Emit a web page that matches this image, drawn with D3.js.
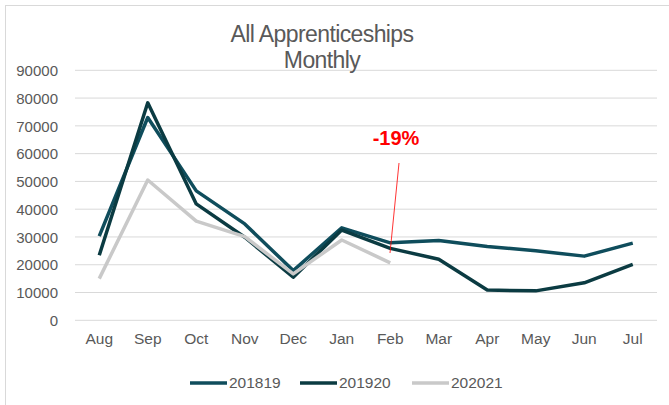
<!DOCTYPE html>
<html><head><meta charset="utf-8">
<script src="https://cdn.jsdelivr.net/npm/d3@7"></script>
<style>body{margin:0;background:#fff}svg{display:block;font-family:"Liberation Sans",Arial,sans-serif}</style>
</head><body><svg id="c" width="669" height="405"></svg>
<script>
const months = ["Aug","Sep","Oct","Nov","Dec","Jan","Feb","Mar","Apr","May","Jun","Jul"];
const s201819 = [30300,73000,46600,34700,17900,33300,27900,28700,26600,25000,23100,27800];
const s201920 = [23400,78300,41900,29900,15500,32500,25900,22000,10900,10600,13500,20100];
const s202021 = [15000,50500,35700,30100,16700,28900,20700];
const yTicks = [0,10000,20000,30000,40000,50000,60000,70000,80000,90000];
const seriesNames = ["201819","201920","202021"];
const colors = ["#0f4d5c","#0b3b42","#c9c9c9"];
const annotation = "-19%";

const svg = d3.select("#c");
svg.append("rect").attr("x",5.5).attr("y",5.5).attr("width",670).attr("height",410)
  .attr("fill","none").attr("stroke","#d9d9d9");

const x = d3.scaleBand().domain(months).range([75,657]);
const y = d3.scaleLinear().domain([0,90000]).range([320.3,70.3]);

svg.append("g").selectAll("line").data(yTicks).join("line")
  .attr("x1",75).attr("x2",657).attr("y1",d=>y(d)).attr("y2",d=>y(d))
  .attr("stroke","#d9d9d9").attr("stroke-width",1);

const ya = svg.append("g").attr("transform","translate(75,0)")
  .call(d3.axisLeft(y).tickValues(yTicks).tickSize(0).tickPadding(17).tickFormat(d3.format("d")));
ya.select(".domain").remove();
ya.selectAll("text").attr("fill","#595959").style("font-size","15px").attr("dy","0.35em");

const xa = svg.append("g").attr("transform","translate(0,320.3)")
  .call(d3.axisBottom(x).tickSize(0).tickPadding(13));
xa.select(".domain").remove();
xa.selectAll("text").attr("fill","#595959").style("font-size","15.5px");

const line = d3.line().x((d,i)=>x(months[i])+x.bandwidth()/2).y(d=>y(d));
[s201819,s201920,s202021].forEach((s,i)=>{
  svg.append("path").datum(s).attr("d",line).attr("fill","none")
    .attr("stroke",colors[i]).attr("stroke-width",3.5).attr("stroke-linejoin","round");
});

svg.append("text").attr("x",322).attr("y",42).attr("text-anchor","middle")
  .attr("fill","#595959").style("font-size","23px").style("letter-spacing","-0.6px").text("All Apprenticeships");
svg.append("text").attr("x",322).attr("y",68).attr("text-anchor","middle")
  .attr("fill","#595959").style("font-size","23px").style("letter-spacing","-0.6px").text("Monthly");

svg.append("text").attr("x",396).attr("y",145).attr("text-anchor","middle")
  .attr("fill","#ff0000").style("font-size","20px").style("font-weight","bold").text(annotation);
svg.append("line").attr("x1",399).attr("y1",163).attr("x2",390).attr("y2",253)
  .attr("stroke","#ff0000").attr("stroke-width",0.8);

const lx = [190,300,412];
seriesNames.forEach((n,i)=>{
  svg.append("line").attr("x1",lx[i]).attr("x2",lx[i]+37).attr("y1",383).attr("y2",383)
    .attr("stroke",colors[i]).attr("stroke-width",3.5);
  svg.append("text").attr("x",lx[i]+39).attr("y",383).attr("dy","0.35em")
    .attr("fill","#595959").style("font-size","15.5px").text(n);
});
</script></body></html>
